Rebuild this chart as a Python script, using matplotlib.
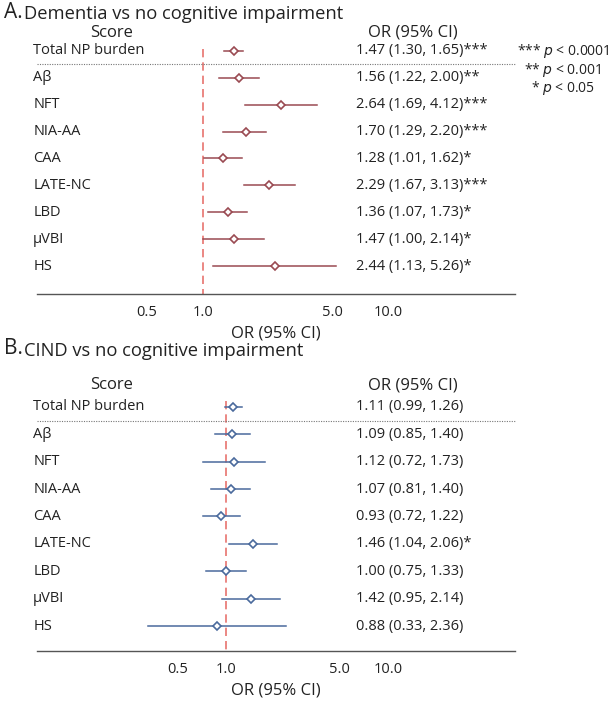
import matplotlib.pyplot as plt
import matplotlib.transforms as mtransforms

plt.rcParams['font.family'] = ['Open Sans', 'DejaVu Sans']

# --- Data -----------------------------------------------------------------
SCORES = ['Total NP burden', 'A\u03b2', 'NFT', 'NIA-AA', 'CAA', 'LATE-NC',
          'LBD', '\u03bcVBI', 'HS']

DEM_OR = [1.47, 1.56, 2.64, 1.70, 1.28, 2.29, 1.36, 1.47, 2.44]
DEM_LO = [1.30, 1.22, 1.69, 1.29, 1.01, 1.67, 1.07, 1.00, 1.13]
DEM_HI = [1.65, 2.00, 4.12, 2.20, 1.62, 3.13, 1.73, 2.14, 5.26]
DEM_SIG = ['***', '**', '***', '***', '*', '***', '*', '*', '*']

CIND_OR = [1.11, 1.09, 1.12, 1.07, 0.93, 1.46, 1.00, 1.42, 0.88]
CIND_LO = [0.99, 0.85, 0.72, 0.81, 0.72, 1.04, 0.75, 0.95, 0.33]
CIND_HI = [1.26, 1.40, 1.73, 1.40, 1.22, 2.06, 1.33, 2.14, 2.36]
CIND_SIG = ['', '', '', '', '', '*', '', '', '']

TICKS = [0.5, 1.0, 5.0, 10.0]
TICK_LABELS = ['0.5', '1.0', '5.0', '10.0']

RED = '#9A4A52'
BLUE = '#4A6A9C'
REF = '#E8736E'
AXIS = '#555555'
INK = '#222222'

W, H = 612, 704
fig = plt.figure(figsize=(W / 100, H / 100), dpi=100)


def px_axes(left, right, top, bottom):
    return fig.add_axes([left / W, 1 - bottom / H, (right - left) / W,
                         (bottom - top) / H])


def panel(ax, ors, los, his, sigs, color, xlim, ylim, head_row, sep_row):
    ax.set_xscale('log')
    ax.set_xlim(*xlim)
    ax.set_ylim(*ylim)
    rows = list(range(len(SCORES)))
    for r, o, lo, hi in zip(rows, ors, los, his):
        ax.plot([lo, hi], [r, r], color=color, lw=1.1, zorder=2)
    ax.plot(ors, rows, ls='none', marker='D', ms=4.2, mfc='white', mec=color,
            mew=1.2, zorder=3)
    ax.plot([1, 1], [head_row + 0.6, ylim[0]], color=REF, lw=1.2,
            ls=(0, (5, 3)), zorder=1)
    tr = mtransforms.blended_transform_factory(ax.transAxes, ax.transData)
    ax.plot([0, 1], [sep_row, sep_row], transform=tr, color='#777777',
            lw=0.8, ls=(0, (1, 1.2)), clip_on=False)
    ax.text(0.155, head_row, 'Score', transform=tr, ha='center', va='center',
            fontsize=12, color=INK)
    ax.text(0.786, head_row, 'OR (95% CI)', transform=tr, ha='center',
            va='center', fontsize=12, color=INK)
    for r, name, o, lo, hi, s in zip(rows, SCORES, ors, los, his, sigs):
        ax.text(-0.008, r, name, transform=tr, ha='left', va='center',
                fontsize=10.5, color=INK)
        ax.text(0.667, r, f'{o:.2f} ({lo:.2f}, {hi:.2f}){s}', transform=tr,
                ha='left', va='center', fontsize=10.5, color=INK)
    for side in ('top', 'right', 'left'):
        ax.spines[side].set_visible(False)
    ax.spines['bottom'].set_color(AXIS)
    ax.spines['bottom'].set_linewidth(1.0)
    ax.set_yticks([])
    ax.set_xticks(TICKS)
    ax.set_xticklabels(TICK_LABELS)
    ax.minorticks_off()
    ax.tick_params(axis='x', length=0, pad=8, labelsize=10.5, colors=INK)
    ax.set_xlabel('OR (95% CI)', fontsize=12, color=INK, labelpad=4)


# Panel A: row spacing ~26.9 px, rows 0..8 at y=51..266, axis at y=294
axA = px_axes(37, 515, 11, 294)
panel(axA, DEM_OR, DEM_LO, DEM_HI, DEM_SIG, RED, (0.127, 48.6),
      (8.0 + 28 / 26.9, -40 / 26.9), -0.68, 0.47)

# Panel B: rows 0..8 at y=407..626, axis at y=651
axB = px_axes(37, 515, 368, 651)
panel(axB, CIND_OR, CIND_LO, CIND_HI, CIND_SIG, BLUE, (0.068, 60.8),
      (8.0 + 25 / 27.4, -39 / 27.4), -0.8, 0.51)

# Titles
fig.text(4 / W, 1 - 12 / H, 'A.', fontsize=15, ha='left', va='center',
         color=INK)
fig.text(24 / W, 1 - 14 / H, 'Dementia vs no cognitive impairment',
         fontsize=13.2, ha='left', va='center', color=INK)
fig.text(4 / W, 1 - 349 / H, 'B.', fontsize=15, ha='left', va='center',
         color=INK)
fig.text(24 / W, 1 - 351 / H, 'CIND vs no cognitive impairment',
         fontsize=13.2, ha='left', va='center', color=INK)

# Significance legend
LEGEND = [('***', '0.0001', 51), ('**', '0.001', 70), ('*', '0.05', 88)]
for stars, p, y in LEGEND:
    fig.text(563 / W, 1 - y / H, f'{stars} $\\it{{p}}$ < {p}', fontsize=10,
             ha='center', va='center', color=INK)

fig.savefig('out.png', dpi=100)
